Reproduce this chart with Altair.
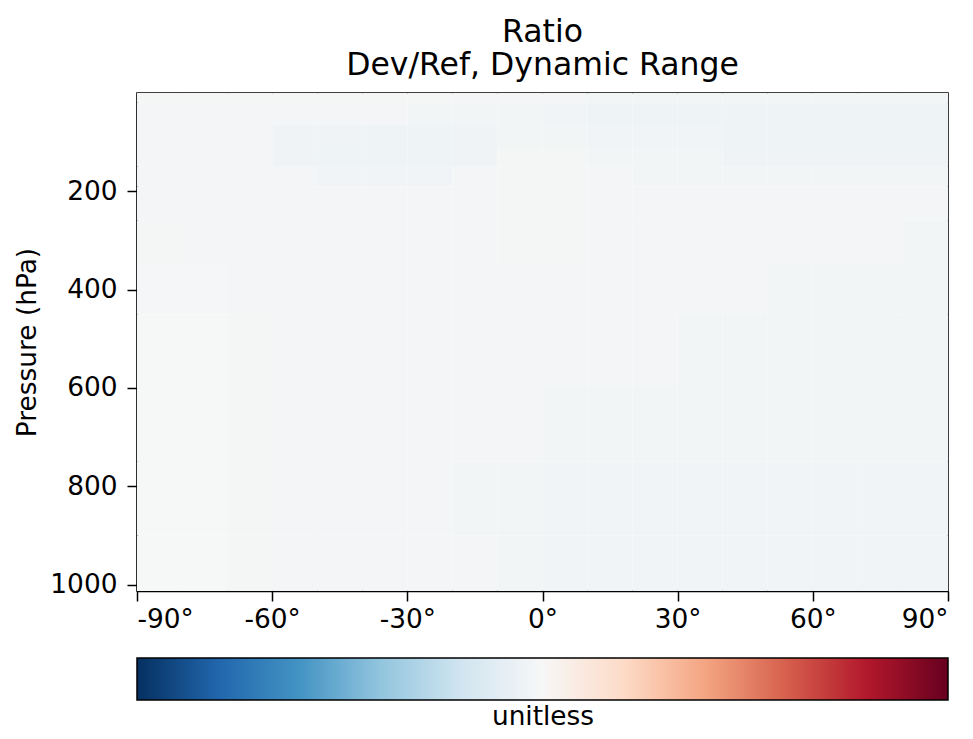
import altair as alt
import pandas as pd

# latitude band edges (degrees) and pressure band edges (hPa)
lat_edges = [-90, -80, -70, -60, -50, -40, -30, -20, -10, 0, 10, 20, 30, 40, 50, 60, 70, 80, 90]
p_edges = [0, 20, 65, 110, 150, 190, 260, 350, 450, 600, 750, 900, 1013]

# ratio deviation from 1 in per-mille, rows = pressure bands (top to bottom), cols = lat bands (S to N)
dev_rows = [
    [-3, -3, -3, -3, -3, -3, -3, -4, -4, -4, -5, -5, -5, -5, -5, -5, -5, -5],
    [-4, -4, -4, -4, -4, -4, -5, -5, -5, -6, -9, -9, -10, -10, -10, -9, -9, -9],
    [-4, -4, -4, -8, -8, -9, -9, -8, -5, -5, -6, -6, -6, -9, -9, -9, -9, -9],
    [-4, -4, -4, -8, -9, -9, -9, -8, -3, -3, -5, -5, -5, -8, -8, -8, -8, -8],
    [-4, -4, -4, -4, -7, -7, -7, -4, -3, -3, -4, -5, -5, -5, -5, -5, -5, -5],
    [-4, -4, -4, -4, -4, -4, -4, -4, -3, -3, -4, -4, -4, -4, -4, -4, -4, -4],
    [-3, -4, -4, -4, -4, -4, -4, -4, -3, -3, -4, -4, -4, -4, -4, -4, -4, -5],
    [-2, -2, -4, -4, -4, -4, -4, -4, -4, -4, -4, -4, -4, -4, -5, -5, -5, -5],
    [-1, -1, -3, -4, -4, -4, -4, -4, -4, -4, -4, -4, -5, -5, -5, -5, -5, -5],
    [-1, -1, -3, -4, -4, -4, -4, -4, -4, -5, -5, -5, -5, -5, -5, -5, -5, -5],
    [-1, -1, -3, -4, -4, -4, -4, -5, -5, -6, -6, -6, -6, -6, -6, -6, -6, -6],
    [-1, -1, -3, -4, -4, -4, -4, -4, -5, -6, -6, -6, -6, -6, -6, -6, -6, -6],
]

x_ticks = [-90, -60, -30, 0, 30, 60, 90]
y_ticks = [200, 400, 600, 800, 1000]
title_lines = ["Ratio", "Dev/Ref, Dynamic Range"]

# colour bar (RdBu_r) stops and colours
cbar_stops = [0.80, 0.84, 0.88, 0.92, 0.96, 1.00, 1.04, 1.08, 1.12, 1.16, 1.20]
cbar_colors = ["#053061", "#2166ac", "#4393c3", "#92c5de", "#d1e5f0", "#f7f7f7",
               "#fddbc7", "#f4a582", "#d6604d", "#b2182b", "#67001f"]

rows = []
for i, row in enumerate(dev_rows):
    for j, d in enumerate(row):
        rows.append({
            "lat0": lat_edges[j], "lat1": lat_edges[j + 1],
            "p0": p_edges[i], "p1": p_edges[i + 1],
            "ratio": 1 + d / 1000.0,
        })
df = pd.DataFrame(rows)

FONT = "DejaVu Sans"
FS = 26.4

color_scale = alt.Scale(domain=cbar_stops, range=cbar_colors, interpolate="rgb")

chart = alt.Chart(df).mark_rect().encode(
    x=alt.X("lat0:Q", scale=alt.Scale(domain=[-90, 90], nice=False, zero=False),
            axis=alt.Axis(values=x_ticks, labelExpr="datum.value + '°'", title=None,
                          labelFontSize=FS, tickSize=10, labelPadding=5)),
    x2="lat1:Q",
    y=alt.Y("p0:Q", scale=alt.Scale(domain=[0, 1013], reverse=True, nice=False, zero=False),
            axis=alt.Axis(values=y_ticks, format="d", title="Pressure (hPa)", labelFontSize=FS,
                          titleFontSize=FS, titleFontWeight="normal", tickSize=10,
                          labelPadding=10, titlePadding=8)),
    y2="p1:Q",
    color=alt.Color("ratio:Q", scale=color_scale,
                    legend=alt.Legend(orient="none", legendX=0, legendY=565,
                                      direction="horizontal", gradientLength=811,
                                      gradientThickness=42, title="unitless",
                                      titleOrient="bottom", titleAnchor="middle",
                                      titleFontSize=FS, titleFontWeight="normal",
                                      labelOpacity=0, labelFontSize=1, labelOffset=0,
                                      gradientStrokeColor="black", gradientStrokeWidth=1.5,
                                      titlePadding=3)),
).properties(
    width=811,
    height=498,
    title=alt.Title(title_lines, fontSize=31.5, fontWeight="normal", anchor="middle",
                    font=FONT, color="black", offset=12, lineHeight=33),
    autosize=alt.AutoSizeParams(type="none"),
    padding={"left": 129, "top": 85, "right": 17, "bottom": 140},
).configure(
    font=FONT,
).configure_axis(
    domainColor="black", domainWidth=1.5, tickColor="black", tickWidth=1.5,
    labelColor="black", titleColor="black", grid=False, labelFont=FONT, titleFont=FONT,
).configure_legend(
    gradientHorizontalMaxLength=811, titleColor="black", titleFont=FONT,
).configure_view(
    stroke="black", strokeWidth=1.5,
)

chart.save("out.html", embed_options={"renderer": "svg", "actions": False})
